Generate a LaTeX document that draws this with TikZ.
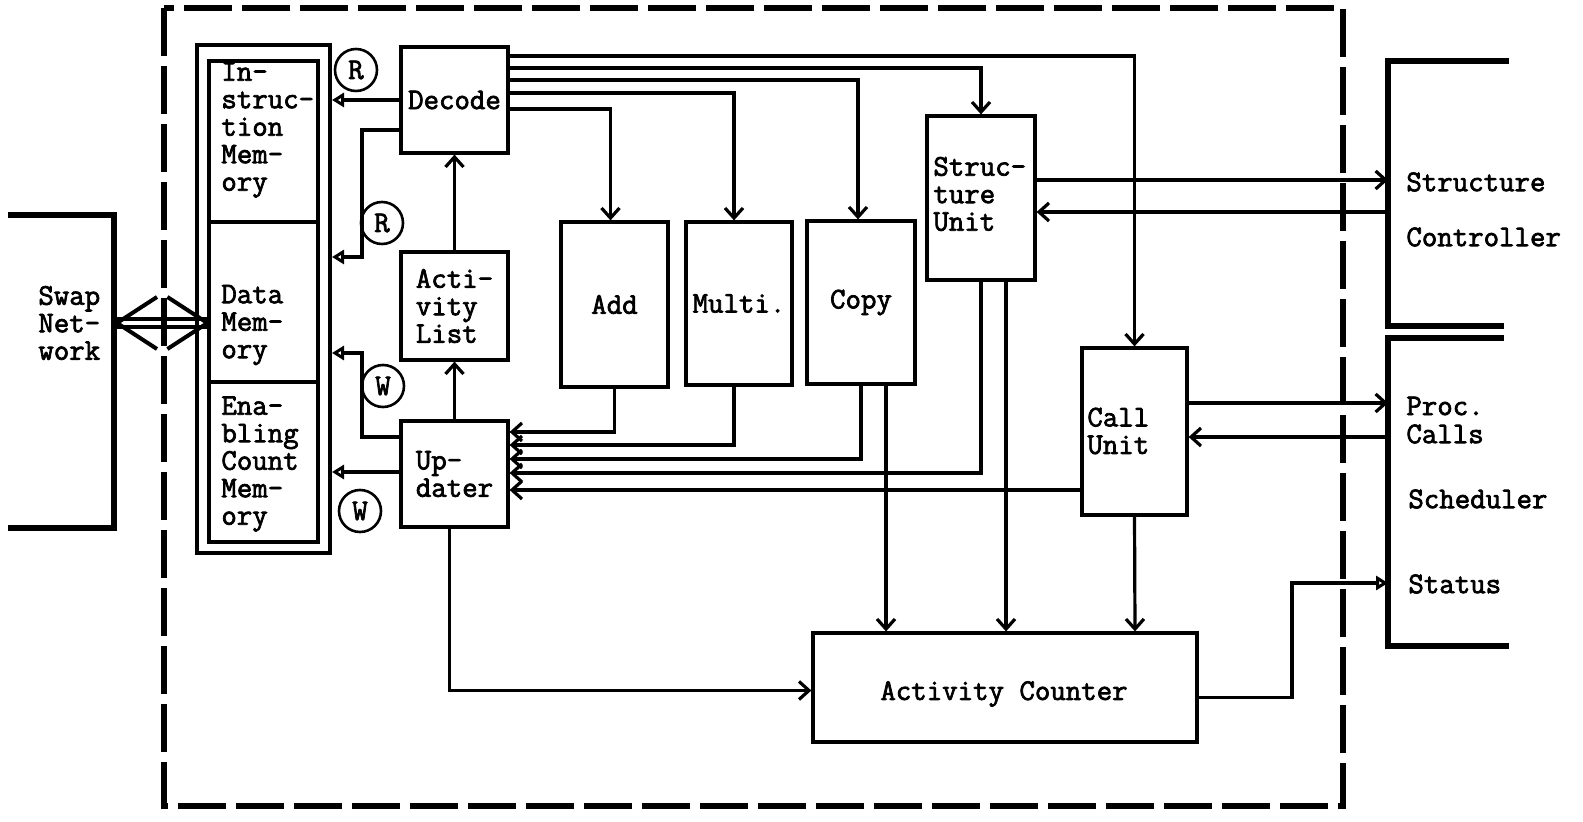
\documentclass[tikz,border=0pt]{standalone}
\usepackage{fontspec}
\newfontfamily\tw{Latin Modern Mono}[FakeBold=2.4]
\usetikzlibrary{arrows.meta,calc}
\begin{document}
\begin{tikzpicture}[x=0.5pt,y=-0.5pt,
  every node/.style={font=\tw\bfseries\fontsize{15}{13.75}\selectfont},
  box/.style={draw, line width=1.6pt, inner sep=0pt},
  lbl/.style={align=left, inner sep=0pt},
  wire/.style={line width=1.6pt},
  tip/.style={wire, -{Straight Barb[length=5pt,width=9pt]}},
  otip/.style={wire, -{Triangle[open,length=6pt,width=7pt]}},
  bracket/.style={line width=2.6pt},
  rw/.style={draw, circle, line width=1.3pt, minimum width=19pt, minimum height=21pt, inner sep=0pt}
]
\useasboundingbox (0,0) rectangle (1583,822);

% outer dashed boundary
\draw[line width=2.6pt, dash pattern=on 24pt off 5pt] (164,8) rectangle (1343,806);

% external brackets
\draw[bracket] (8,215) -- (114,215) -- (114,528) -- (8,528);
\draw[bracket] (1509,61) -- (1388,61) -- (1388,326) -- (1504,326);
\draw[bracket] (1504,338) -- (1388,338) -- (1388,646) -- (1509,646);

\node[lbl, anchor=west] (swap) at (38,323) {Swap\\Net-\\work};

% memory
\node[box, line width=2pt, minimum width=66.5pt, minimum height=254pt] (mem) at (263.5,299) {};
\node[box, minimum width=54.5pt, minimum height=80.5pt] (instr) at (263.5,141.5) {};
\node[box, minimum width=54.5pt, minimum height=80pt] (data) at (263.5,302) {};
\node[box, minimum width=54.5pt, minimum height=80pt] (enab) at (263.5,462) {};
\node[lbl, anchor=west] (instrt) at (221,130) {In-\\struc-\\tion\\Mem-\\ory};
\node[lbl, anchor=west] (datat) at (221,325) {Data\\Mem-\\ory};
\node[lbl, anchor=west] (enabt) at (221,464) {Ena-\\bling\\Count\\Mem-\\ory};

% R / W marks
\node[rw] (r1) at (356,70) {R};
\node[rw] (r2) at (382,223) {R};
\node[rw] (w1) at (383,386) {W};
\node[rw] (w2) at (360,511) {W};

% units
\node[box, minimum width=53.5pt, minimum height=53pt] (decode) at (454.5,100) {Decode};
\node[box, minimum width=53.5pt, minimum height=54pt, align=left] (actl) at (454.5,306) {Acti-\\vity\\List};
\node[box, minimum width=53.5pt, minimum height=53pt, align=left] (upd) at (454.5,474) {Up-\\dater};
\node[box, minimum width=53.5pt, minimum height=82.5pt] (add) at (614.5,304.5) {Add};
\node[box, minimum width=53pt, minimum height=81.5pt] (multi) at (739,303.5) {Multi.};
\node[box, minimum width=54pt, minimum height=81.5pt] (copy) at (861,302.5) {Copy};
\node[box, minimum width=54pt, minimum height=82pt] (struct) at (981,198) {};
\node[lbl, anchor=west] (structt) at (933,194) {Struc-\\ture\\Unit};
\node[box, minimum width=52.5pt, minimum height=83.5pt] (call) at (1134.5,431.5) {};
\node[lbl, anchor=west] (callt) at (1087,431) {Call\\Unit};
\node[box, minimum width=192pt, minimum height=54.5pt] (ac) at (1005,687.5) {};
\node[lbl] (act) at (1004,694) {Activity Counter};

% right labels
\node[lbl, anchor=west] (l1) at (1406,182) {Structure};
\node[lbl, anchor=west] (l2) at (1406,237) {Controller};
\node[lbl, anchor=west] (l3) at (1406,406) {Proc.};
\node[lbl, anchor=west] (l4) at (1406,434) {Calls};
\node[lbl, anchor=west] (l5) at (1408,499) {Scheduler};
\node[lbl, anchor=west] (l6) at (1408,584) {Status};

\coordinate (strIn) at (1388,180);
\coordinate (strOut) at (1388,212);
\coordinate (procIn) at (1388,403);
\coordinate (procOut) at (1388,437);
\coordinate (statIn) at (1388,583);

% swap double arrow
\coordinate (swapTip) at (117,323);
\coordinate (memTip) at ($(data.west)+(0,21)$);
\draw[wire] ($(swapTip)+(0,-4)$) -- ($(memTip)+(0,-4)$);
\draw[wire] ($(swapTip)+(0,4)$) -- ($(memTip)+(0,4)$);
\draw[wire, line width=2pt] ($(swapTip)+(40,-26)$) -- (swapTip) -- ($(swapTip)+(40,26)$);
\draw[wire, line width=2pt] ($(memTip)+(-40,-26)$) -- (memTip) -- ($(memTip)+(-40,26)$);

% memory accesses
\draw[otip] (decode.west) -- (mem.east |- decode.west);
\draw[otip] ($(decode.west)+(0,30)$) -| (362,257) -- ($(mem.east)+(0,-42)$);
\draw[otip] ($(upd.west)+(0,-37)$) -| (362,353) -- ($(mem.east)+(0,54)$);
\draw[otip] ($(upd.west)+(0,-2)$) -- ($(mem.east)+(0,173)$);

% activity loop
\draw[tip] (upd.north) -- (actl.south);
\draw[tip] (actl.north) -- (decode.south);

% decode fan-out
\draw[tip] ($(decode.east)+(0,-44)$) -| (call.north);
\draw[tip] ($(decode.east)+(0,-32)$) -| (struct.north);
\draw[tip] ($(decode.east)+(0,-20)$) -| ($(copy.north)+(-3,0)$);
\draw[tip] ($(decode.east)+(0,-7)$) -| ($(multi.north)+(-5,0)$);
\draw[tip] ($(decode.east)+(0,9)$) -| ($(add.north)+(-4,0)$);

% results to updater
\draw[tip] (add.south) |- ($(upd.east)+(0,-42)$);
\draw[tip] ($(multi.south)+(-5,0)$) |- ($(upd.east)+(0,-29)$);
\draw[tip] (copy.south) |- ($(upd.east)+(0,-15)$);
\draw[tip] (struct.south) |- ($(upd.east)+(0,-1)$);
\draw[tip] ($(call.west)+(0,58.5)$) -- ($(upd.east)+(0,16)$);

% to activity counter
\draw[tip] ($(copy.south)+(25,0)$) -- ($(ac.north)+(-119,0)$);
\draw[tip] ($(struct.south)+(25,0)$) -- ($(ac.north)+(1,0)$);
\draw[tip] (call.south) -- ($(ac.north)+(130,0)$);
\draw[tip] ($(upd.south)+(-5,0)$) |- ($(ac.west)+(0,3)$);

% external links
\draw[tip] (struct.east |- strIn) -- (strIn);
\draw[tip] (strOut) -- (struct.east |- strOut);
\draw[tip] (call.east |- procIn) -- (procIn);
\draw[tip] (procOut) -- (call.east |- procOut);
\draw[otip] ($(ac.east)+(0,10)$) -| ($(statIn)+(-96,0)$) -- (statIn);
\end{tikzpicture}
\end{document}
